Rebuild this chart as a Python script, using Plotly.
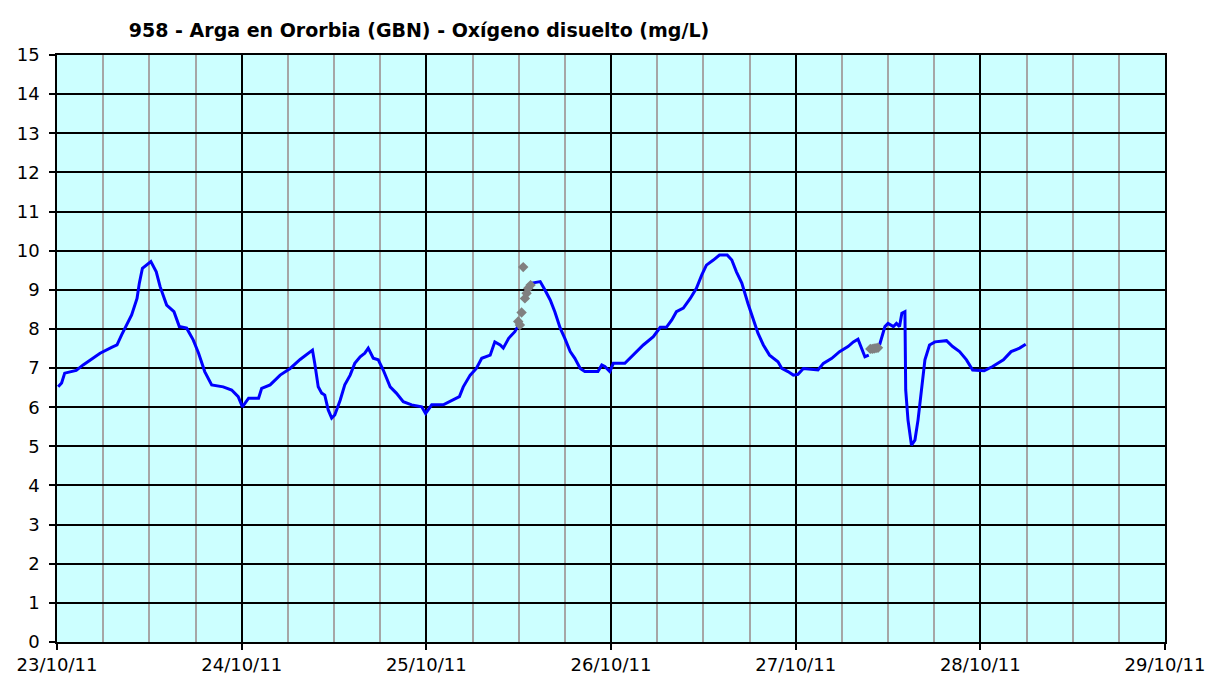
import pandas as pd
import plotly.graph_objects as go

START = "2011-10-23"

# Blue series: hours since 23/10/11 00:00 and dissolved oxygen (mg/L); None = gap
hours = [0.15, 0.6, 1.0, 2.5, 3.4, 4.3, 5.6, 7.1, 7.8, 8.4, 9.05, 9.7, 10.4, 10.7, 11.1, 11.65, 12.2,
         12.9, 13.4, 14.25, 15.2, 15.9, 16.85, 17.7, 18.4, 19.2, 20.1, 21.6, 22.7, 23.55, 24.1, 24.9,
         26.2, 26.6, 27.7, 29.0, 30.3, 31.6, 32.65, 33.2, 33.5, 33.95, 34.4, 34.8, 35.25, 35.7, 36.1,
         36.8, 37.4, 38.1, 38.7, 39.4, 40.0, 40.45, 41.1, 41.75, 42.4, 43.3, 44.1, 45.0, 46.1, 47.4,
         47.9, 48.7, 50.2, 51.5, 52.3, 52.8, 53.7, 54.5, 55.2, 56.3, 56.9, 57.6, 58.0, 58.7, 59.5, 60.0,
         60.8,
         61.7, 62.8, 63.4, 64.1, 64.7, 65.4, 66.0, 66.7, 67.3, 68.0, 68.6, 70.3, 70.8, 71.2, 71.85, 72.3,
         73.8, 74.9, 76.2, 77.5, 78.4, 79.2, 79.9, 80.5, 81.4, 82.3, 83.1, 83.8, 84.4, 85.3, 86.1, 87.1,
         87.7, 88.3, 89.0, 89.8, 90.5, 91.1, 91.8, 92.6, 93.7, 94.2, 95.0, 95.7, 96.3, 97.0, 98.9, 99.6,
         100.7, 101.7, 102.8, 103.5, 104.1, 104.6, 105.0, 105.5,
         106.2,
         106.9, 107.6, 108.0, 108.7, 109.1, 109.5, 109.8, 110.2, 110.3, 110.6, 111.05, 111.5, 111.9,
         112.4, 112.8, 113.4, 114.1, 115.6, 116.4, 117.3, 118.2, 119.0, 120.5, 121.6, 123.0, 124.0,
         125.1, 125.9]
oxygen = [6.52, 6.62, 6.87, 6.94, 7.08, 7.21, 7.38, 7.53, 7.59, 7.85, 8.10, 8.36, 8.78, 9.17, 9.55, 9.63, 9.72,
          9.46, 9.08, 8.61, 8.44, 8.06, 8.02, 7.72, 7.38, 6.91, 6.57, 6.52, 6.44, 6.27, 6.01, 6.23,
          6.23, 6.48, 6.57, 6.82, 6.99, 7.22, 7.38, 7.46, 7.12, 6.52, 6.36, 6.31, 5.93, 5.72, 5.80,
          6.18, 6.57, 6.82, 7.12, 7.29, 7.38, 7.51, 7.25, 7.21, 6.95, 6.52, 6.36, 6.14, 6.06, 6.01,
          5.84, 6.06, 6.06, 6.20, 6.27, 6.52, 6.82, 6.99, 7.25, 7.33, 7.67, 7.59, 7.51, 7.76, 7.93, 8.10,
          None,
          9.17, 9.21, 9.00, 8.74, 8.44, 8.02, 7.76, 7.42, 7.25, 6.99, 6.91, 6.91, 7.08, 7.04, 6.91, 7.12,
          7.12, 7.33, 7.59, 7.80, 8.04, 8.04, 8.23, 8.44, 8.53, 8.78, 9.04, 9.38, 9.63, 9.76, 9.89, 9.89,
          9.76, 9.46, 9.17, 8.65, 8.23, 7.89, 7.59, 7.33, 7.16, 6.99, 6.91, 6.82, 6.84, 6.99, 6.95, 7.12,
          7.25, 7.42, 7.55, 7.67, 7.74, 7.46, 7.29, 7.33,
          None,
          7.59, 8.06, 8.14, 8.06, 8.14, 8.06, 8.40, 8.44, 6.44, 5.67, 5.03, 5.16, 5.67,
          6.52, 7.21, 7.59, 7.67, 7.70, 7.55, 7.42, 7.21, 6.95, 6.93, 7.04, 7.21, 7.42,
          7.51, 7.61]

# Grey series (flagged values)
grey_hours = [59.94, 60.16, 60.38, 60.59, 60.81, 61.03, 61.24, 61.55, 105.7, 105.95, 106.2, 106.45, 106.7]
grey_values = [8.19, 8.10, 8.42, 9.58, 8.78, 8.91, 9.04, 9.12, 7.49, 7.49, 7.50, 7.51, 7.52]

title_text = "958 - Arga en Ororbia (GBN) - Oxígeno disuelto (mg/L)"

t0 = pd.Timestamp(START)
x_blue = [t0 + pd.Timedelta(hours=h) for h in hours]
x_grey = [t0 + pd.Timedelta(hours=h) for h in grey_hours]

FONT = "DejaVu Sans"

fig = go.Figure()
fig.add_trace(go.Scatter(x=x_blue, y=oxygen, mode="lines",
                         line=dict(color="#0000ff", width=3), connectgaps=False,
                         hoverinfo="x+y"))
fig.add_trace(go.Scatter(x=x_grey, y=grey_values, mode="markers",
                         marker=dict(symbol="diamond", size=8, color="#808080"),
                         hoverinfo="x+y"))

fig.update_layout(
    width=1208, height=677,
    margin=dict(l=57, r=43, t=55, b=35, autoexpand=False),
    plot_bgcolor="#ccffff", paper_bgcolor="white",
    showlegend=False,
    title=dict(text="<b>" + title_text + "</b>", x=419 / 1208, xanchor="center", xref="container",
               y=1 - 30 / 677, yanchor="middle", yref="container",
               font=dict(family=FONT, size=19, color="black")),
    xaxis=dict(type="date", range=["2011-10-23", "2011-10-29"], tick0="2011-10-23",
               dtick=86400000, tickformat="%d/%m/%y", ticks="outside", ticklen=6,
               tickcolor="black", tickwidth=1.5, automargin=False,
               showgrid=True, gridcolor="black", gridwidth=1.5,
               showline=True, linecolor="black", linewidth=1.5, mirror=True,
               zeroline=False, ticklabelstandoff=0,
               minor=dict(dtick=6 * 3600000, tick0="2011-10-23", showgrid=True,
                          gridcolor="#a6a6a6", gridwidth=2, ticks=""),
               tickfont=dict(family=FONT, size=18, color="black")),
    yaxis=dict(range=[0, 15], dtick=1, tick0=0, ticks="outside", ticklen=6,
               tickcolor="black", tickwidth=1.5, automargin=False,
               showgrid=True, gridcolor="black", gridwidth=1.5,
               showline=True, linecolor="black", linewidth=1.5, mirror=True,
               zeroline=False, ticklabelstandoff=6,
               tickfont=dict(family=FONT, size=18, color="black")),
)

fig.write_html("out.html", config={"displayModeBar": False},
               post_script="document.body.style.margin='0';document.body.style.overflow='hidden';")
